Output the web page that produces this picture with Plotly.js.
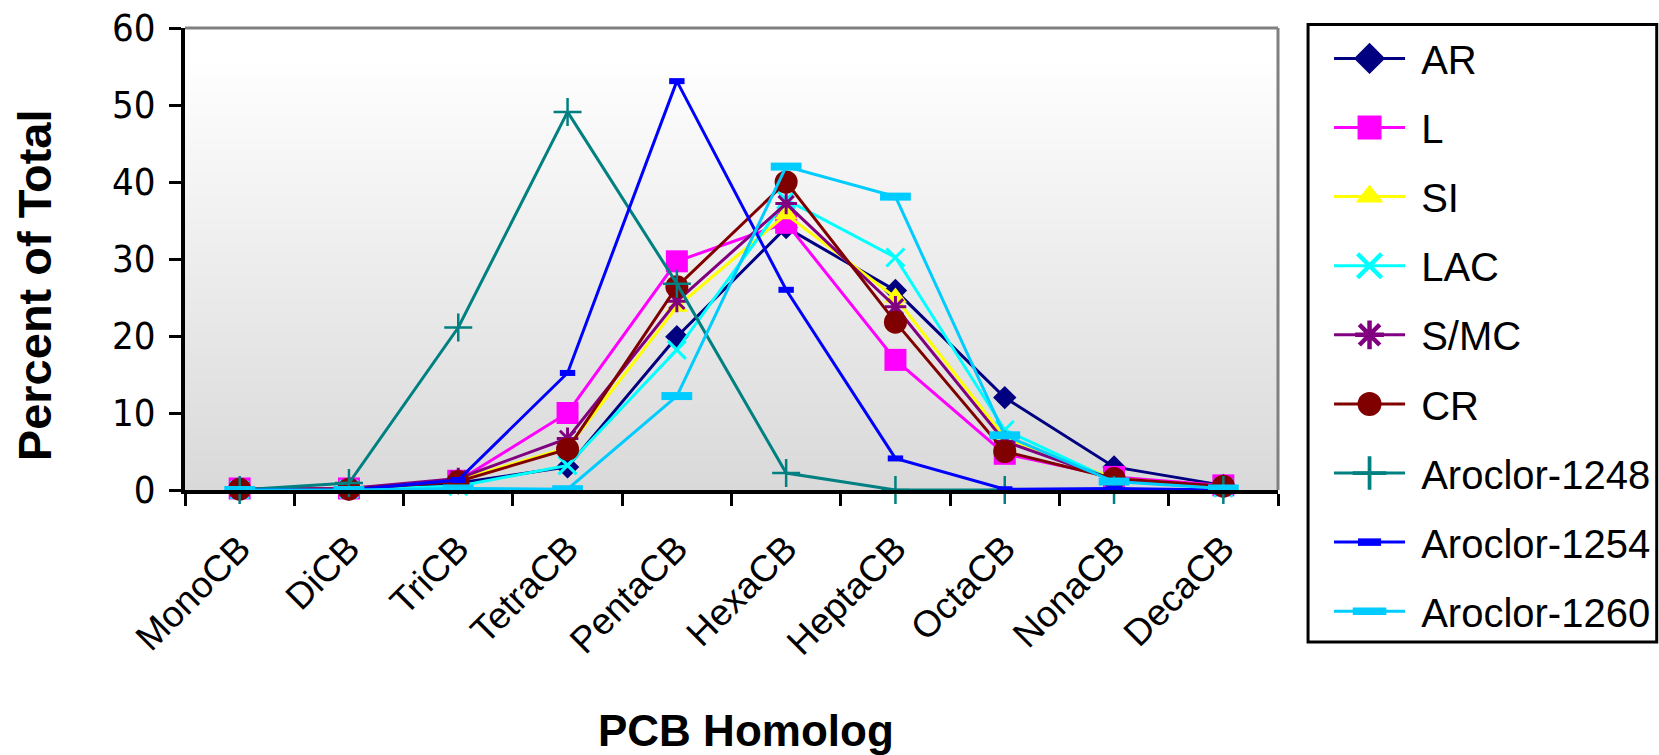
<!DOCTYPE html>
<html>
<head>
<meta charset="utf-8">
<script src="https://cdn.plot.ly/plotly-3.0.1.min.js"></script>
<style>
  html, body { margin: 0; padding: 0; background: #ffffff; }
  #chart { width: 1659px; height: 755px; }
</style>
</head>
<body>
<div id="chart"></div>
<script>
// PCB homolog categories
const homologs = ['MonoCB', 'DiCB', 'TriCB', 'TetraCB', 'PentaCB', 'HexaCB', 'HeptaCB', 'OctaCB', 'NonaCB', 'DecaCB'];

// Percent of total, per sample group and per Aroclor standard
const AR        = [0.1, 0.1, 0.9, 3.0, 19.9, 34.1, 25.9, 12.0, 3.0, 0.6];
const L         = [0.2, 0.2, 1.2, 10.0, 29.7, 34.7, 16.9, 4.7, 1.7, 0.6];
const SI        = [0.1, 0.1, 1.3, 5.5, 23.8, 35.8, 25.0, 6.8, 1.5, 0.4];
const LAC       = [0.0, 0.1, 0.5, 3.2, 18.2, 37.7, 30.2, 7.8, 1.2, 0.3];
const SMC       = [0.1, 0.2, 1.5, 6.7, 24.5, 37.2, 23.8, 6.3, 1.3, 0.4];
const CR        = [0.1, 0.1, 1.1, 5.3, 26.4, 40.0, 21.8, 5.0, 1.5, 0.5];
const A1248     = [0.0, 0.9, 21.1, 49.1, 26.8, 2.2, 0.0, 0.0, 0.0, 0.0];
const A1254     = [0.0, 0.0, 1.3, 15.2, 53.1, 26.0, 4.1, 0.1, 0.2, 0.0];
const A1260     = [0.0, 0.0, 0.2, 0.1, 12.2, 42.0, 38.1, 7.1, 1.1, 0.2];

const seriesNames = ['AR', 'L', 'SI', 'LAC', 'S/MC', 'CR', 'Aroclor-1248', 'Aroclor-1254', 'Aroclor-1260'];
const seriesValues = [AR, L, SI, LAC, SMC, CR, A1248, A1254, A1260];

const SANS = 'Arial, "Liberation Sans", sans-serif';
const NARROW = '"Liberation Sans Narrow", "Arial Narrow", "DejaVu Sans Condensed", sans-serif';

// Line colour and marker style for each series
const styles = [
  { color: '#000080', symbol: 'diamond',          size: 18, lw: 0 },
  { color: '#ff00ff', symbol: 'square',           size: 22, lw: 0 },
  { color: '#ffff00', symbol: 'triangle-up',      size: 20, lw: 0 },
  { color: '#00ffff', symbol: 'x-thin-open',      size: 18, lw: 3 },
  { color: '#800080', symbol: 'asterisk-open',    size: 18, lw: 3 },
  { color: '#800000', symbol: 'circle',           size: 23, lw: 0 },
  { color: '#008080', symbol: 'cross-thin-open',  size: 20, lw: 2.5 },
  { color: '#0000ff', symbol: 'line-ew-open',     size: 11, lw: 6 },
  { color: '#00ccff', symbol: 'line-ew-open',     size: 22, lw: 8 }
];

const traces = seriesNames.map((name, i) => ({
  type: 'scatter',
  mode: 'lines+markers',
  // a no-break space keeps the legend text clear of its symbol line
  name: '\u00a0' + name,
  legendgroup: 'g' + i,
  x: homologs,
  y: seriesValues[i],
  line: { color: styles[i].color, width: 3 },
  marker: {
    color: styles[i].color,
    symbol: styles[i].symbol,
    size: styles[i].size,
    line: { color: styles[i].color, width: styles[i].lw }
  },
  cliponaxis: false
}));

// Plot-area background: vertical fade from white at the top to light grey at the base
const shapes = [];
const bands = 80;
for (let k = 0; k < bands; k++) {
  const t = (k + 0.5) / bands;
  const f = Math.min(1, t * 1.06);
  const c = Math.round(217 + (255 - 217) * f);
  shapes.push({
    type: 'rect', xref: 'paper', yref: 'paper', layer: 'below',
    x0: 0, x1: 1, y0: k / bands, y1: (k + 1) / bands + 0.002,
    line: { width: 0 }, fillcolor: `rgb(${c},${c},${c})`
  });
}
// Grey frame along the top and right of the plot area
shapes.push({ type: 'line', xref: 'paper', yref: 'paper', x0: 0, x1: 1, y0: 1, y1: 1,
  line: { color: '#808080', width: 3 } });
shapes.push({ type: 'line', xref: 'paper', yref: 'paper', x0: 1, x1: 1, y0: 0, y1: 1,
  line: { color: '#808080', width: 3 } });
// Legend box
shapes.push({ type: 'rect', xref: 'paper', yref: 'paper',
  x0: 1.0275, x1: 1.3465, y0: -0.329, y1: 1.0076,
  line: { color: '#000000', width: 3 }, fillcolor: 'rgba(0,0,0,0)' });

const layout = {
  width: 1659,
  height: 755,
  margin: { l: 185, r: 381, t: 28, b: 265, autoexpand: false },
  paper_bgcolor: '#ffffff',
  plot_bgcolor: '#d9d9d9',
  font: { family: SANS, color: '#000000' },
  showlegend: true,
  legend: {
    x: 1.0467, xanchor: 'left',
    y: 1.0045, yanchor: 'top',
    bgcolor: 'rgba(0,0,0,0)',
    borderwidth: 0,
    itemwidth: 71,
    maxheight: 740,
    traceorder: 'grouped',
    tracegroupgap: 14.1,
    font: { family: SANS, size: 40, color: '#000000' }
  },
  xaxis: {
    type: 'category',
    range: [-0.5, 9.5],
    tickson: 'boundaries',
    ticks: 'outside',
    ticklen: 12,
    tickwidth: 3,
    tickcolor: '#000000',
    showline: true,
    linewidth: 4,
    linecolor: '#000000',
    showgrid: false,
    zeroline: false,
    tickangle: -45,
    ticklabelstandoff: 18,
    tickfont: { family: SANS, size: 37, color: '#000000' },
    fixedrange: true
  },
  yaxis: {
    range: [0, 60],
    dtick: 10,
    tick0: 0,
    ticks: 'outside',
    ticklen: 12,
    tickwidth: 3,
    tickcolor: '#000000',
    showline: true,
    linewidth: 4,
    linecolor: '#000000',
    showgrid: false,
    zeroline: false,
    ticklabelstandoff: 6,
    tickfont: { family: NARROW, size: 38, color: '#000000' },
    fixedrange: true
  },
  shapes: shapes,
  annotations: [
    {
      text: 'Percent of Total', textangle: -90, showarrow: false,
      xref: 'paper', yref: 'paper', x: -0.138, y: 0.4437,
      xanchor: 'center', yanchor: 'middle',
      font: { family: SANS, size: 47, weight: 'bold', color: '#000000' }
    },
    {
      text: 'PCB Homolog', showarrow: false,
      xref: 'paper', yref: 'paper', x: 0.5133, y: -0.521,
      xanchor: 'center', yanchor: 'middle',
      font: { family: SANS, size: 44, weight: 'bold', color: '#000000' }
    }
  ]
};

Plotly.newPlot('chart', traces, layout, { staticPlot: true, displayModeBar: false }).then(gd => {
  // enlarge the legend symbols to the size of the plotted markers
  gd.querySelectorAll('.legend .legendpoints path.scatterpts').forEach(p => {
    const t = p.getAttribute('transform') || '';
    p.setAttribute('transform', t + ' scale(1.5)');
  });
});
</script>
</body>
</html>
